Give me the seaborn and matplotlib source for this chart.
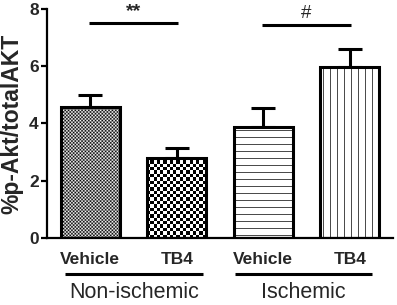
import numpy as np
import pandas as pd
import matplotlib
matplotlib.use('Agg')
import matplotlib.pyplot as plt
import seaborn as sns

# ---- data ----
groups = ['Non-ischemic', 'Non-ischemic', 'Ischemic', 'Ischemic']
treatments = ['Vehicle', 'TB4', 'Vehicle', 'TB4']
means = [4.58, 2.80, 3.87, 5.98]
sems = [0.42, 0.33, 0.68, 0.63]
group_names = ['Non-ischemic', 'Ischemic']
ylabel = '%p-Akt/totalAKT'
yticks = [0, 2, 4, 6, 8]
sig_marks = ['**', '#']
sig_pairs = [(0, 1), (2, 3)]

# ---- style ----
sns.set_theme(style='ticks')
plt.rcParams['font.family'] = ['Liberation Sans', 'DejaVu Sans']

df = pd.DataFrame({'key': [f'{g} {t}' for g, t in zip(groups, treatments)],
                   'value': means})

fig = plt.figure(figsize=(3.97, 3.05), dpi=100)
ax = fig.add_axes([0.1184, 0.2197, 0.8715, 0.7508])
sns.barplot(data=df, x='key', y='value', order=list(df['key']),
            errorbar=None, width=0.68, color='white', ax=ax)
ax.set_xlim(-0.5, 3.5)
ax.set_ylim(0, 8)

# fill styles: (kind, cell/period in px)
patterns = [('check', 1.7), ('check', 3.3), ('hlines', 7), ('vlines', 7)]
bars = ax.patches[:4]
for p, (kind, step) in zip(bars, patterns):
    p.set_edgecolor('black')
    p.set_linewidth(2.2)
    p.set_zorder(3)
    p.set_facecolor('none')
    x0, w, h = p.get_x(), p.get_width(), p.get_height()
    (px0, py0) = ax.transData.transform((x0, 0))
    (px1, py1) = ax.transData.transform((x0 + w, h))
    wpx, hpx = px1 - px0, py1 - py0
    if kind == 'check':
        ncol = max(2, int(round(wpx / step)))
        nrow = max(2, int(round(hpx / step)))
        arr = (np.add.outer(np.arange(nrow), np.arange(ncol)) % 2).astype(float)
        interp = 'nearest' if step > 2 else 'antialiased'
    else:
        ncol = int(round(wpx))
        nrow = int(round(hpx))
        arr = np.ones((nrow, ncol))
        if kind == 'hlines':
            idx = np.arange(nrow)
            arr[(idx % step) == 3, :] = 0.3
        else:
            idx = np.arange(ncol)
            arr[:, (idx % step) == 3] = 0.3
        interp = 'nearest'
    im = ax.imshow(arr, cmap='gray', vmin=0, vmax=1, extent=[x0, x0 + w, 0, h],
                   aspect='auto', interpolation=interp, zorder=2)
    im.set_clip_path(p)

xc = [p.get_x() + p.get_width() / 2 for p in bars]
ax.errorbar(xc, means, yerr=[np.zeros(len(sems)), sems], fmt='none',
            ecolor='black', elinewidth=2.2, capsize=8.5, capthick=2.2, zorder=1)

# significance markers
sig_y = [7.51, 7.44]
for (a, b), m, yy in zip(sig_pairs, sig_marks, sig_y):
    xa, xb = xc[a] - 0.02, xc[b] + 0.02
    ax.plot([xa, xb], [yy, yy], color='black', lw=2.2, solid_capstyle='butt', clip_on=False)
    ax.text((xa + xb) / 2, yy + 0.1, m, ha='center', va='bottom',
            fontsize=14 if m == '**' else 13.5,
            fontweight='bold' if m == '**' else 'normal')

# axes styling
ax.set_xlabel('')
ax.set_ylabel(ylabel, fontsize=16.5, fontweight='bold', labelpad=4)
ax.set_yticks(yticks)
ax.set_yticklabels([str(t) for t in yticks], fontsize=12.5, fontweight='bold')
ax.set_xticks(range(4))
ax.set_xticklabels(treatments, fontsize=12.5, fontweight='bold')
ax.tick_params(axis='x', length=0, pad=10)
ax.tick_params(axis='y', length=4, width=1.6, pad=2, color='black')
for s in ['top', 'right']:
    ax.spines[s].set_visible(False)
for s in ['left', 'bottom']:
    ax.spines[s].set_linewidth(1.6)
    ax.spines[s].set_color('black')

# group labels under the axis
tr = ax.get_xaxis_transform()
group_centers = [0.505, 2.465]
half = 0.795
for g, c in zip(group_names, group_centers):
    ax.plot([c - half, c + half], [-0.157, -0.157], transform=tr, color='black',
            lw=2.2, clip_on=False, solid_capstyle='butt')
    ax.text(c, -0.24, g, transform=tr, ha='center', va='center', fontsize=15.5)

fig.savefig('out.png', dpi=100)
